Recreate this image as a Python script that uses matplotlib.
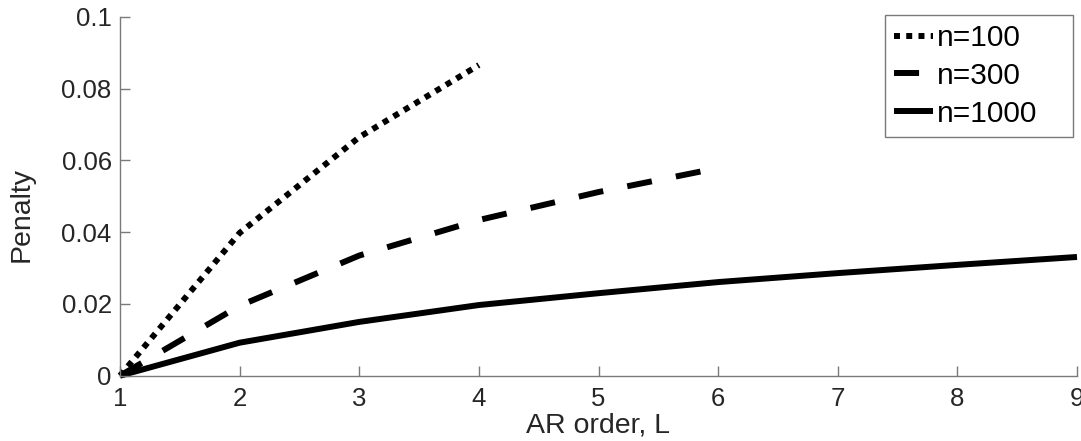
import matplotlib
matplotlib.use("Agg")
import matplotlib.pyplot as plt

plt.rcParams['font.family'] = ['Liberation Sans', 'DejaVu Sans']

# data
x100 = [1, 2, 3, 4]
y100 = [0.0, 0.0398, 0.0665, 0.0866]
x300 = [1, 2, 3, 4, 5, 6]
y300 = [0.0, 0.0195, 0.0335, 0.0434, 0.0512, 0.0579]
x1000 = [1, 2, 3, 4, 5, 6, 7, 8, 9]
y1000 = [0.0, 0.0092, 0.0150, 0.0197, 0.0230, 0.0261, 0.0286, 0.0309, 0.0331]
labels = ['n=100', 'n=300', 'n=1000']
xticks = [1, 2, 3, 4, 5, 6, 7, 8, 9]
yticks = [0, 0.02, 0.04, 0.06, 0.08, 0.1]
ytick_labels = ['0', '0.02', '0.04', '0.06', '0.08', '0.1']

W, H = 1081, 441
fig = plt.figure(figsize=(W / 100, H / 100), dpi=100)
ax = fig.add_axes([120 / W, 1 - 375.7 / H, (1077 - 120) / W, (375.7 - 17) / H])

txt = '#262626'
lw = 4.3
l1, = ax.plot(x100, y100, color='black', lw=lw, linestyle=(0, (1, 1.05)),
              dash_capstyle='butt', clip_on=False, label=labels[0])
l2, = ax.plot(x300, y300, color='black', lw=lw, linestyle=(0, (4.2, 4.1)),
              dash_capstyle='butt', clip_on=False, label=labels[1])
l3, = ax.plot(x1000, y1000, color='black', lw=lw, linestyle='-',
              solid_capstyle='butt', clip_on=False, label=labels[2])

ax.set_xlim(1, 9)
ax.set_ylim(0, 0.1)
ax.set_xticks(xticks)
ax.set_xticklabels([str(v) for v in xticks])
ax.set_yticks(yticks)
ax.set_yticklabels(ytick_labels)

for s in ['top', 'right']:
    ax.spines[s].set_visible(False)
for s in ['left', 'bottom']:
    ax.spines[s].set_color('#7a7a7a')
    ax.spines[s].set_linewidth(1.0)

ax.tick_params(axis='both', direction='in', length=7, width=1.0, color='#7a7a7a',
               labelsize=18.5, labelcolor=txt)
ax.tick_params(axis='x', pad=8)
ax.tick_params(axis='y', pad=6)

fig.text(598 / W, 1 - 433 / H, 'AR order, L', ha='center', va='baseline',
         fontsize=20.5, color=txt)
fig.text(22 / W, 1 - 214 / H, 'Penalty', ha='center', va='center',
         rotation=90, fontsize=20.5, color=txt)

bx0, by0, bx1, by1 = 885 / W, 1 - 138.3 / H, 1073.3 / W, 1 - 15 / H
leg = ax.legend(handles=[l1, l2, l3], loc='upper left',
                bbox_to_anchor=(bx0, by0, bx1 - bx0, by1 - by0),
                bbox_transform=fig.transFigure, mode='expand', borderaxespad=0,
                fontsize=21.5, handlelength=1.3, handletextpad=0.15,
                labelspacing=0.33, borderpad=0.3, fancybox=False, framealpha=1,
                edgecolor='#7a7a7a')
leg.get_frame().set_linewidth(1.0)
for t in leg.get_texts():
    t.set_color('black')

fig.savefig('out.png', dpi=100)
